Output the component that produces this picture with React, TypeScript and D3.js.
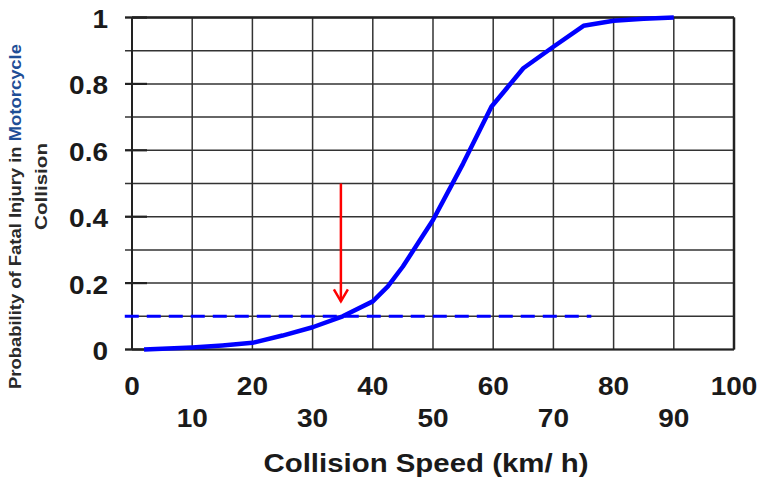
import React from "react";
import * as d3 from "d3";

const speeds = [2, 5, 10, 15, 20, 25, 30, 35, 40, 42.5, 45, 47.5, 50, 55, 59.7, 65, 70, 75, 80, 85, 90];
const probs = [0, 0.002, 0.006, 0.012, 0.02, 0.042, 0.067, 0.1, 0.145, 0.19, 0.25, 0.32, 0.39, 0.56, 0.731, 0.847, 0.912, 0.975, 0.99, 0.996, 1.0];

const xTicksUpper = [0, 20, 40, 60, 80, 100];
const xTicksLower = [10, 30, 50, 70, 90];
const yTickLabels = [0, 0.2, 0.4, 0.6, 0.8, 1];
const yGrid = [0, 0.1, 0.2, 0.3, 0.4, 0.5, 0.6, 0.7, 0.8, 0.9, 1];
const xGrid = [0, 10, 20, 30, 40, 50, 60, 70, 80, 90, 100];

const thresholdLevel = 0.1;
const thresholdFrom = -1.2;
const thresholdTo = 76.3;

const arrowX = 34.7;
const arrowFrom = 0.5;
const arrowTo = 0.145;

const xTitle = "Collision Speed (km/ h)";
const yTitleA = "Probability of Fatal Injury in ";
const yTitleB = "Motorcycle";
const yTitleC = "Collision";

const W = 760;
const H = 479;
const L = 132;
const R = 734;
const T = 17.5;
const B = 349.5;

const FONT = "'Liberation Sans', Arial, sans-serif";
const TXT = "#1a1a1a";
const SX = 1.12;

function SText(props: { x: number; y: number; anchor: string; size: number; children: any; fill?: string }) {
  const { x, y, anchor, size, children, fill } = props;
  return (
    <text
      transform={`translate(${x},${y}) scale(${SX},1)`}
      textAnchor={anchor as any}
      fontFamily={FONT}
      fontWeight="bold"
      fontSize={size}
      fill={fill || TXT}
    >
      {children}
    </text>
  );
}

export default function App() {
  const x = d3.scaleLinear().domain([0, 100]).range([L, R]);
  const y = d3.scaleLinear().domain([0, 1]).range([B, T]);

  const line = d3
    .line<number>()
    .x((_, i) => x(speeds[i]))
    .y((d) => y(d))
    .curve(d3.curveLinear);

  const ax = x(arrowX);
  const ay0 = y(arrowFrom);
  const ay1 = y(arrowTo);

  return (
    <svg
      width={W}
      height={H}
      viewBox={`0 0 ${W} ${H}`}
      style={{ position: "absolute", left: 0, top: 0, background: "#fff" }}
    >
      <rect x={0} y={0} width={W} height={H} fill="#fff" />
      {/* horizontal grid lines with outward ticks */}
      {yGrid.map((v) => (
        <line key={"hg" + v} x1={L - 7} x2={R} y1={y(v)} y2={y(v)} stroke="#333" strokeWidth={1.5} />
      ))}
      {/* major tick inner marks */}
      {yTickLabels.map((v) => (
        <line key={"mt" + v} x1={L - 7} x2={L + 15} y1={y(v)} y2={y(v)} stroke="#222" strokeWidth={2.2} />
      ))}
      {/* vertical grid lines */}
      {xGrid.map((v) => (
        <line key={"vg" + v} x1={x(v)} x2={x(v)} y1={T} y2={B} stroke="#333" strokeWidth={1.5} />
      ))}
      {/* border */}
      <line x1={L} x2={R} y1={T} y2={T} stroke="#222" strokeWidth={2.5} />
      <line x1={R} x2={R} y1={T} y2={B} stroke="#222" strokeWidth={2.5} />
      <line x1={L} x2={R} y1={B} y2={B} stroke="#222" strokeWidth={2} />
      <line x1={L} x2={L} y1={T} y2={B} stroke="#222" strokeWidth={2} />

      {/* dashed threshold */}
      <line
        x1={x(thresholdFrom)}
        x2={x(thresholdTo)}
        y1={y(thresholdLevel)}
        y2={y(thresholdLevel)}
        stroke="#0000ff"
        strokeWidth={3}
        strokeDasharray="14 8"
      />

      {/* curve */}
      <path d={line(probs) || ""} fill="none" stroke="#0000ff" strokeWidth={4.5} strokeLinejoin="round" />

      {/* red arrow */}
      <line x1={ax} x2={ax} y1={ay0} y2={ay1} stroke="#ff0000" strokeWidth={2.5} />
      <polyline
        points={`${ax - 7},${ay1 - 12} ${ax},${ay1} ${ax + 7},${ay1 - 12}`}
        fill="none"
        stroke="#ff0000"
        strokeWidth={2.5}
      />

      {/* y tick labels */}
      {yTickLabels.map((v) => (
        <SText key={"yl" + v} x={108} y={y(v) + 10.5} anchor="end" size={25}>
          {String(v)}
        </SText>
      ))}

      {/* x tick labels */}
      {xTicksUpper.map((v) => (
        <SText key={"xu" + v} x={x(v)} y={395} anchor="middle" size={25}>
          {String(v)}
        </SText>
      ))}
      {xTicksLower.map((v) => (
        <SText key={"xl" + v} x={x(v)} y={427} anchor="middle" size={25}>
          {String(v)}
        </SText>
      ))}

      {/* x title */}
      <text
        x={426}
        y={472}
        textAnchor="middle"
        fontFamily={FONT}
        fontWeight="bold"
        fontSize={26}
        fill={TXT}
        textLength={325}
        lengthAdjust="spacingAndGlyphs"
      >
        {xTitle}
      </text>

      {/* y title */}
      <text
        transform="translate(21,216.5) rotate(-90)"
        textAnchor="middle"
        fontFamily={FONT}
        fontWeight="bold"
        fontSize={16.5}
        fill="#2a2a2a"
        textLength={345}
        lengthAdjust="spacingAndGlyphs"
      >
        {yTitleA}
        <tspan fill="#1f4e96">{yTitleB}</tspan>
      </text>
      <text
        transform="translate(47,186.5) rotate(-90)"
        textAnchor="middle"
        fontFamily={FONT}
        fontWeight="bold"
        fontSize={16.5}
        fill="#2a2a2a"
        textLength={87}
        lengthAdjust="spacingAndGlyphs"
      >
        {yTitleC}
      </text>
    </svg>
  );
}
